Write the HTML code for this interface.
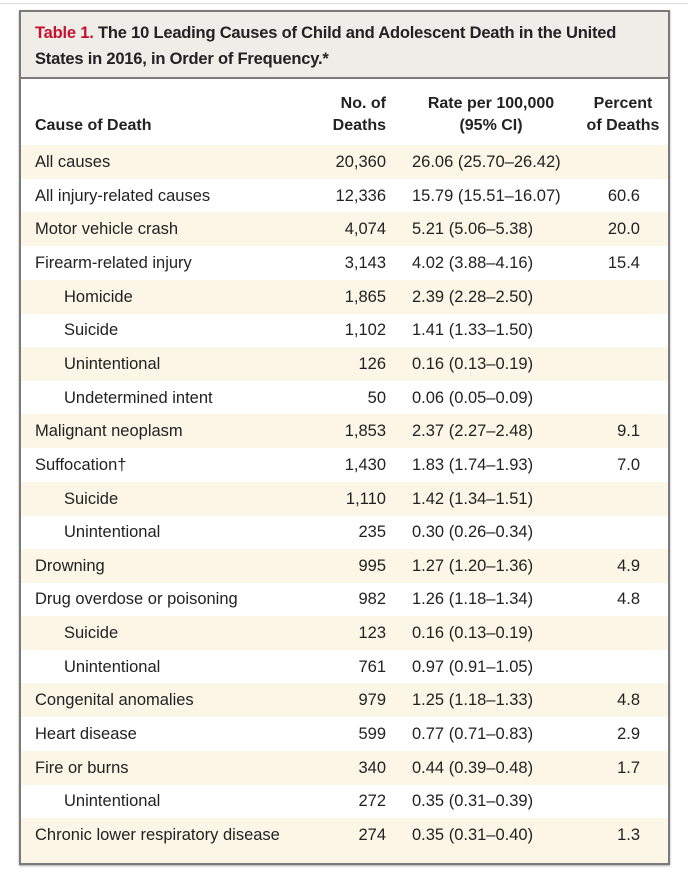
<!DOCTYPE html>
<html><head><meta charset="utf-8"><style>
body{margin:0;width:688px;height:874px;background:#fff;font-family:"Liberation Sans",sans-serif;color:#222;position:relative;overflow:hidden}
.topline{position:absolute;left:0;top:3px;width:688px;height:1px;background:#ddd}
.box{position:absolute;left:19px;top:10px;width:647px;height:851px;border:2px solid #7a7a7a;box-shadow:0 1px 2px #aaa}
.title{position:absolute;left:0;top:0;width:647px;height:67px;background:#efede8;border-bottom:2px solid #7a7a7a;font-size:16.5px;font-weight:bold;line-height:26px;padding:8px 0 0 14px;box-sizing:border-box;letter-spacing:-0.2px}
.title .r{color:#c8102e}
.hd{position:absolute;font-size:16px;font-weight:bold;line-height:22px;text-align:center}
.row{position:absolute;left:0;width:647px;height:34px;font-size:16.5px;line-height:34px}
.row.b{background:#fbf6e6}
.row span{position:absolute;top:0;white-space:nowrap}
.c1{left:14px}.c1.i{left:43px}
.c2{right:282px}
.c3{left:391px}
.c4{right:28px}
</style></head><body>
<div class="topline"></div>
<div class="box">
<div class="title"><span class="r">Table 1.</span> The 10 Leading Causes of Child and Adolescent Death in the United States in 2016, in Order of Frequency.*</div>
<div class="hd" style="left:295px;width:70px;top:81px;text-align:right">No. of<br>Deaths</div>
<div class="hd" style="left:14px;top:103px;text-align:left">Cause of Death</div>
<div class="hd" style="left:395px;width:150px;top:81px">Rate per 100,000<br>(95% CI)</div>
<div class="hd" style="left:556px;width:92px;top:81px">Percent<br>of Deaths</div>
<div id="rows"></div>
</div>
<script>
const causes=["All causes","All injury-related causes","Motor vehicle crash","Firearm-related injury","Homicide","Suicide","Unintentional","Undetermined intent","Malignant neoplasm","Suffocation†","Suicide","Unintentional","Drowning","Drug overdose or poisoning","Suicide","Unintentional","Congenital anomalies","Heart disease","Fire or burns","Unintentional","Chronic lower respiratory disease"];
const indent=[0,0,0,0,1,1,1,1,0,0,1,1,0,0,1,1,0,0,0,1,0];
const deaths=["20,360","12,336","4,074","3,143","1,865","1,102","126","50","1,853","1,430","1,110","235","995","982","123","761","979","599","340","272","274"];
const rates=["26.06 (25.70–26.42)","15.79 (15.51–16.07)","5.21 (5.06–5.38)","4.02 (3.88–4.16)","2.39 (2.28–2.50)","1.41 (1.33–1.50)","0.16 (0.13–0.19)","0.06 (0.05–0.09)","2.37 (2.27–2.48)","1.83 (1.74–1.93)","1.42 (1.34–1.51)","0.30 (0.26–0.34)","1.27 (1.20–1.36)","1.26 (1.18–1.34)","0.16 (0.13–0.19)","0.97 (0.91–1.05)","1.25 (1.18–1.33)","0.77 (0.71–0.83)","0.44 (0.39–0.48)","0.35 (0.31–0.39)","0.35 (0.31–0.40)"];
const percents=["","60.6","20.0","15.4","","","","","9.1","7.0","","","4.9","4.8","","","4.8","2.9","1.7","","1.3"];
const host=document.getElementById('rows');
causes.forEach((c,i)=>{
  const r=document.createElement('div');
  r.className='row'+(i%2===0?' b':'');
  r.style.top=(133+i*33.65)+'px';
  if(i===causes.length-1) r.style.height='45px';
  
  
  const a=document.createElement('span');a.className='c1'+(indent[i]?' i':'');a.textContent=c;
  
  
  const b=document.createElement('span');b.className='c2';b.textContent=deaths[i];
  
  
  const d=document.createElement('span');d.className='c3';d.textContent=rates[i];
  
  
  const e=document.createElement('span');e.className='c4';e.textContent=percents[i];
  
  
  r.append(a,b,d,e);host.appendChild(r);
});
</script>
</body></html>
